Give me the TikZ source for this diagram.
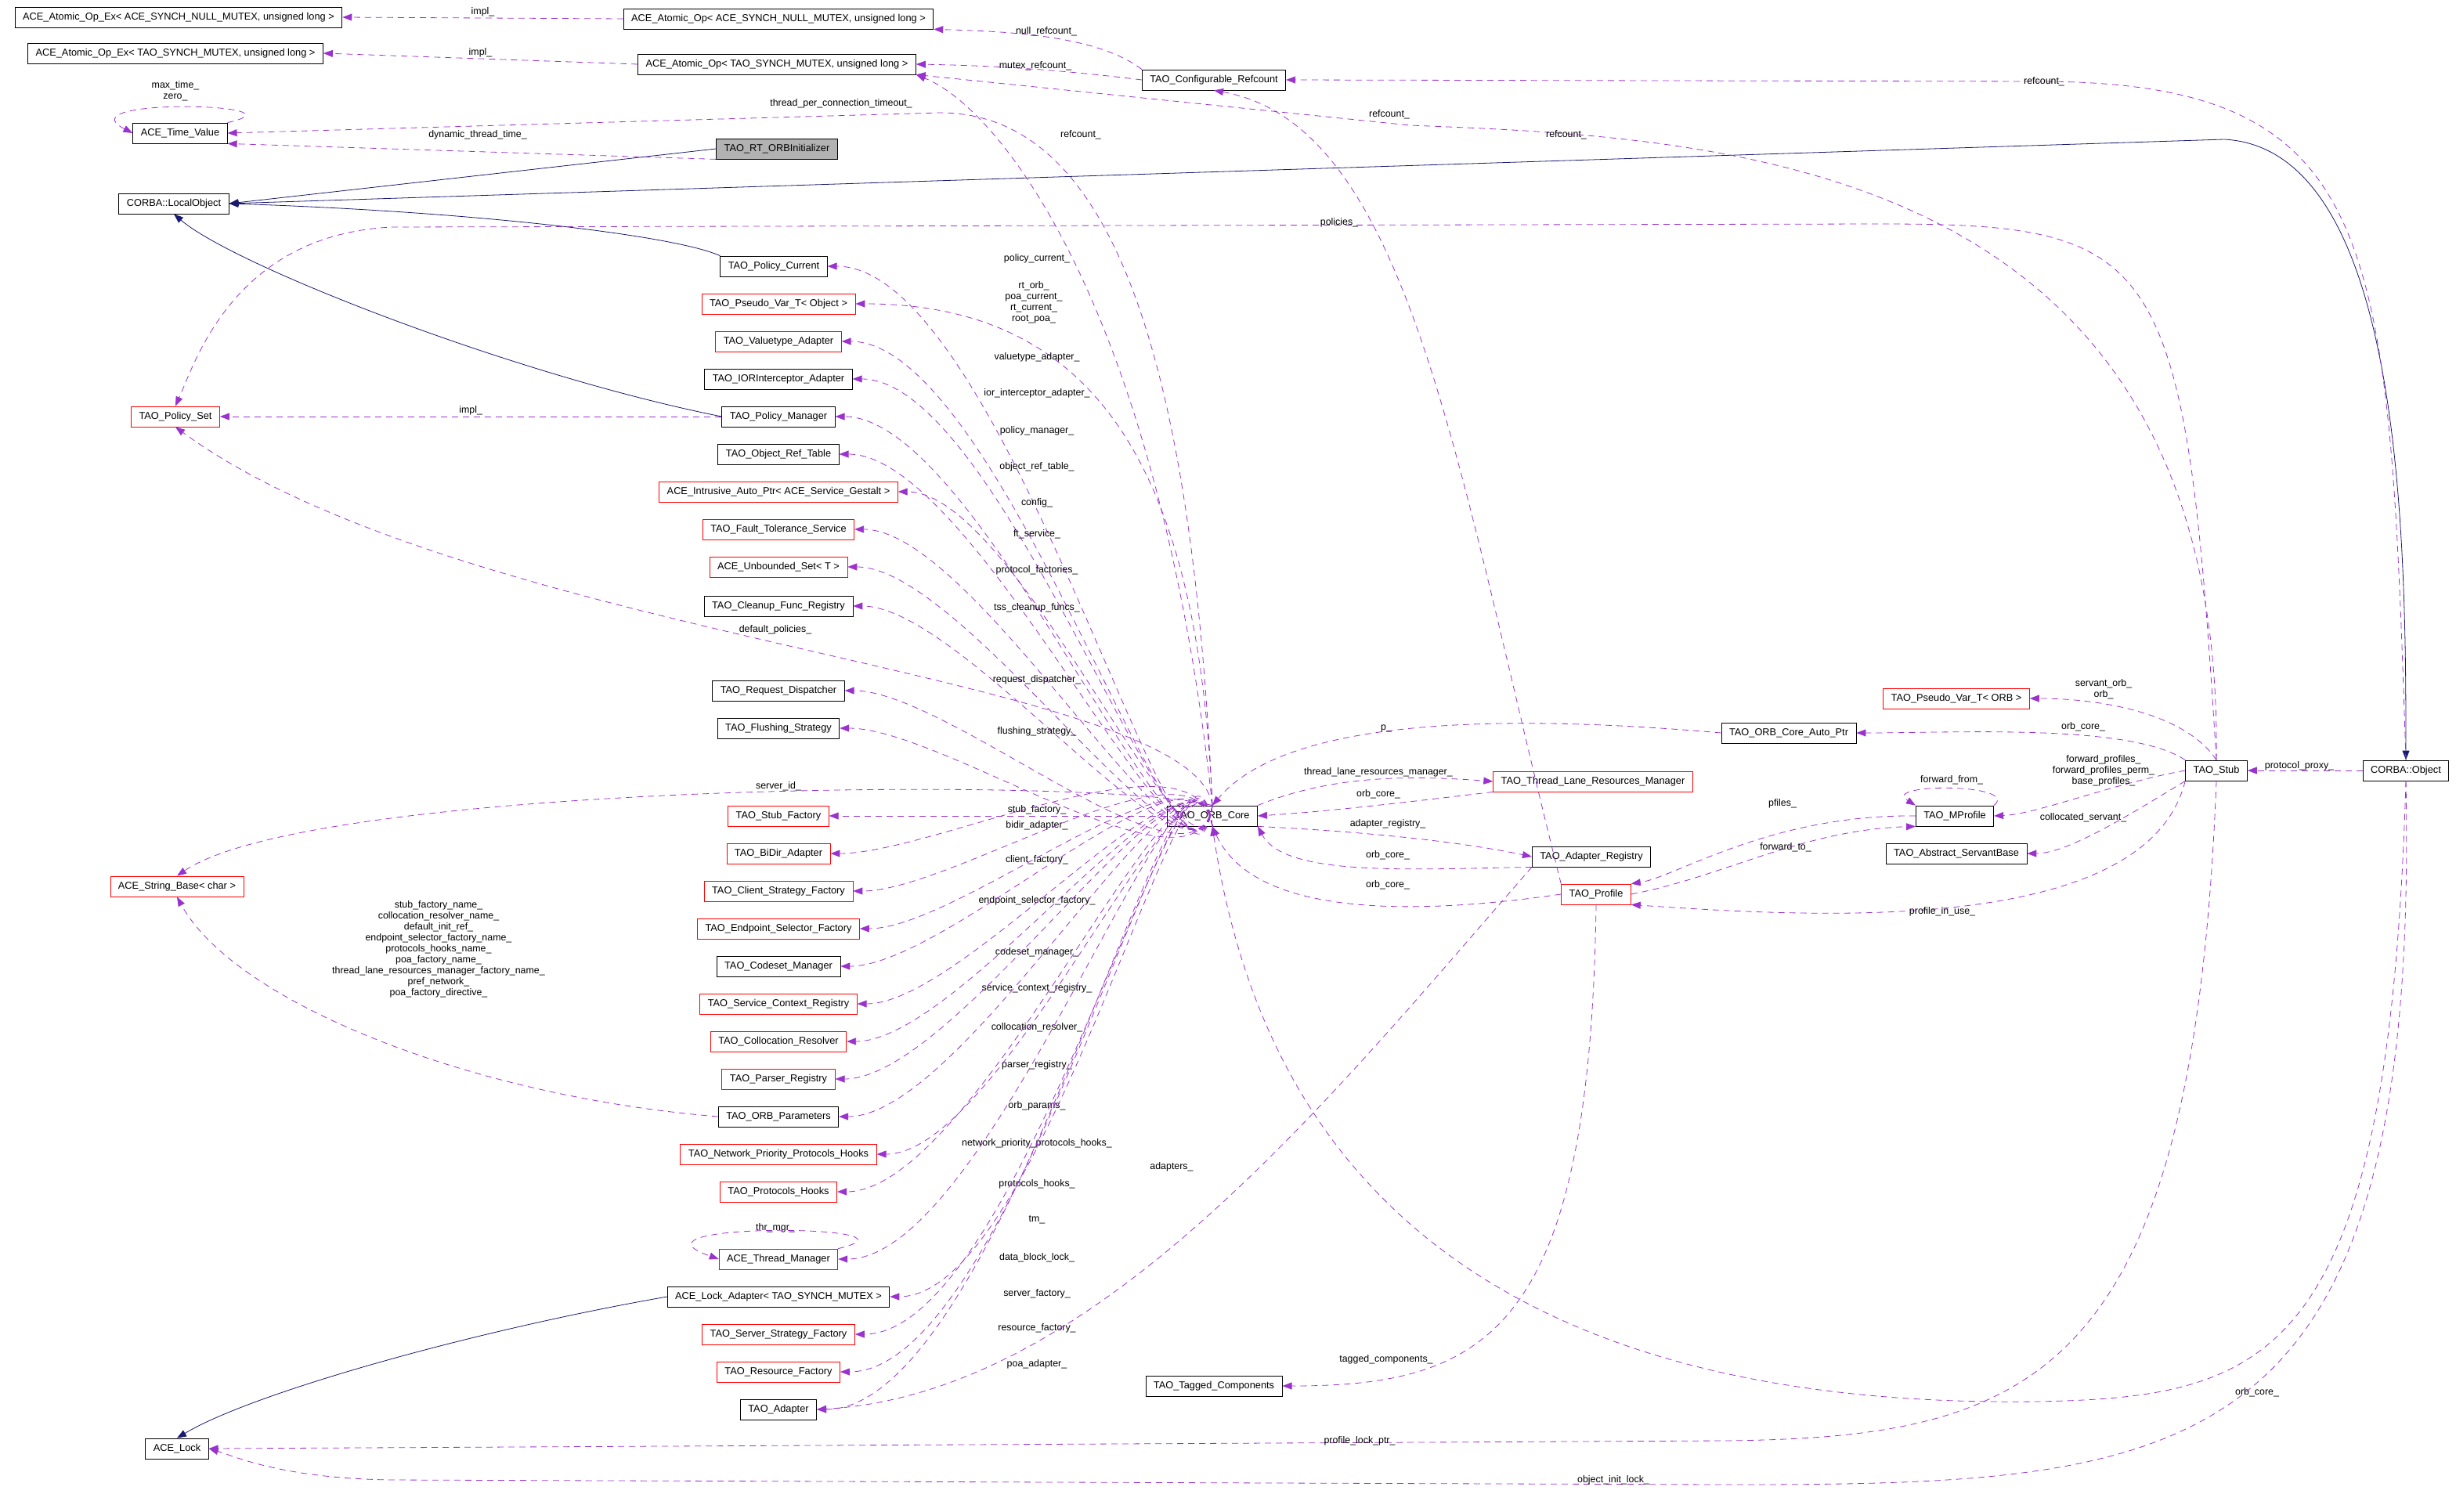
\documentclass[tikz,border=0pt]{standalone}
\usepackage{fontspec}
\setmainfont{Liberation Sans}
\usetikzlibrary{arrows.meta}
\definecolor{usecol}{HTML}{9A32CD}
\definecolor{inhcol}{HTML}{191970}
\tikzset{
    cls/.style = {rectangle,draw,thin,inner xsep=5pt,inner ysep=0pt,minimum height=13pt,font=\fontsize{6.4}{7}\selectfont},
    redcls/.style = {cls,draw=red},
    rootcls/.style = {cls,fill=gray!60},
    lbl/.style = {font=\fontsize{6.2}{7}\selectfont,align=center,inner sep=0pt},
    use/.style = {draw=usecol,dash pattern=on 4pt off 3pt,-{Triangle[length=6pt,width=4.5pt]},fill=none},
    inh/.style = {draw=inhcol,-{Triangle[length=6pt,width=4.5pt]}}}
\begin{document}
\begin{tikzpicture}[x=1pt,y=-1pt]
\useasboundingbox (0,0) rectangle (1568,965.5);
% classes
\node[cls] (AtomExNull) at (114,11) {ACE\_Atomic\_Op\_Ex< ACE\_SYNCH\_NULL\_MUTEX, unsigned long >};
\node[cls] (AtomExMtx) at (112,34) {ACE\_Atomic\_Op\_Ex< TAO\_SYNCH\_MUTEX, unsigned long >};
\node[cls] (AtomNull) at (497,12) {ACE\_Atomic\_Op< ACE\_SYNCH\_NULL\_MUTEX, unsigned long >};
\node[cls] (AtomMtx) at (496,41) {ACE\_Atomic\_Op< TAO\_SYNCH\_MUTEX, unsigned long >};
\node[cls] (ConfRefcount) at (775,51) {TAO\_Configurable\_Refcount};
\node[cls] (TimeValue) at (115,85) {ACE\_Time\_Value};
\node[rootcls] (RTInit) at (496,95) {TAO\_RT\_ORBInitializer};
\node[cls] (LocalObject) at (111,130) {CORBA::LocalObject};
\node[cls] (PolicyCurrent) at (494,170) {TAO\_Policy\_Current};
\node[redcls] (PseudoVarObj) at (497,194) {TAO\_Pseudo\_Var\_T< Object >};
\node[redcls] (Valuetype) at (497,218) {TAO\_Valuetype\_Adapter};
\node[cls] (IORInt) at (497,242) {TAO\_IORInterceptor\_Adapter};
\node[cls] (PolicyManager) at (497,266) {TAO\_Policy\_Manager};
\node[redcls] (PolicySet) at (112,266) {TAO\_Policy\_Set};
\node[cls] (ObjRefTable) at (497,290) {TAO\_Object\_Ref\_Table};
\node[redcls] (IntrusiveAuto) at (497,314) {ACE\_Intrusive\_Auto\_Ptr< ACE\_Service\_Gestalt >};
\node[redcls] (FaultTol) at (497,338) {TAO\_Fault\_Tolerance\_Service};
\node[redcls] (Unbounded) at (497,362) {ACE\_Unbounded\_Set< T >};
\node[cls] (Cleanup) at (497,387) {TAO\_Cleanup\_Func\_Registry};
\node[cls] (ReqDisp) at (497,441) {TAO\_Request\_Dispatcher};
\node[cls] (Flushing) at (497,465) {TAO\_Flushing\_Strategy};
\node[redcls] (StubFactory) at (497,521) {TAO\_Stub\_Factory};
\node[redcls] (BiDir) at (497,545) {TAO\_BiDir\_Adapter};
\node[redcls] (StringBase) at (113,566) {ACE\_String\_Base< char >};
\node[redcls] (ClientStrat) at (497,569) {TAO\_Client\_Strategy\_Factory};
\node[redcls] (EndpointSel) at (497,593) {TAO\_Endpoint\_Selector\_Factory};
\node[cls] (Codeset) at (497,617) {TAO\_Codeset\_Manager};
\node[redcls] (ServiceCtx) at (497,641) {TAO\_Service\_Context\_Registry};
\node[redcls] (Collocation) at (497,665) {TAO\_Collocation\_Resolver};
\node[redcls] (Parser) at (497,689) {TAO\_Parser\_Registry};
\node[cls] (ORBParams) at (497,713) {TAO\_ORB\_Parameters};
\node[redcls] (NetPrio) at (497,737) {TAO\_Network\_Priority\_Protocols\_Hooks};
\node[redcls] (ProtHooks) at (497,761) {TAO\_Protocols\_Hooks};
\node[redcls] (ThreadMgr) at (497,804) {ACE\_Thread\_Manager};
\node[cls] (LockAdapter) at (497,828) {ACE\_Lock\_Adapter< TAO\_SYNCH\_MUTEX >};
\node[redcls] (ServerStrat) at (497,852) {TAO\_Server\_Strategy\_Factory};
\node[redcls] (ResFactory) at (497,876) {TAO\_Resource\_Factory};
\node[cls] (Adapter) at (497,900) {TAO\_Adapter};
\node[cls] (ACELock) at (113,925) {ACE\_Lock};
\node[cls] (ORBCore) at (774,521) {TAO\_ORB\_Core};
\node[redcls] (ThreadLane) at (1017,499) {TAO\_Thread\_Lane\_Resources\_Manager};
\node[cls] (ORBCoreAuto) at (1142,468) {TAO\_ORB\_Core\_Auto\_Ptr};
\node[redcls] (PseudoVarORB) at (1249,446) {TAO\_Pseudo\_Var\_T< ORB >};
\node[cls] (AdapterReg) at (1016,547) {TAO\_Adapter\_Registry};
\node[redcls] (Profile) at (1019,571) {TAO\_Profile};
\node[cls] (MProfile) at (1248,521) {TAO\_MProfile};
\node[cls] (AbstractServant) at (1249,545) {TAO\_Abstract\_ServantBase};
\node[cls] (Stub) at (1415,492) {TAO\_Stub};
\node[cls] (CorbaObject) at (1536,492) {CORBA::Object};
\node[cls] (TaggedComp) at (775,885) {TAO\_Tagged\_Components};

% inheritance
\draw[inh] (RTInit.west) -- (LocalObject.east);
\draw[inh] (PolicyCurrent.north west) .. controls (430,150) and (300,135) .. (LocalObject.east);
\draw[inh] (PolicyManager.west) .. controls (330,240) and (150,170) .. (LocalObject.south);
\draw[inh] (LockAdapter.west) .. controls (300,850) and (160,890) .. (ACELock.north);
\draw[inh] (LocalObject.east) -- (1420,89) .. controls (1535,95) and (1536,350) .. (CorbaObject.north);

% usage
\draw[use] (AtomNull.west) -- node[lbl,above=1pt] {impl\_} (AtomExNull.east);
\draw[use] (AtomMtx.west) -- node[lbl,above=1pt] {impl\_} (AtomExMtx.east);
\draw[use] (ConfRefcount.north west) .. controls (700,22) and (640,20) .. (AtomNull.south east);
\node[lbl] (lnull) at (668,20) {null\_refcount\_};
\draw[use] (ConfRefcount.west) .. controls (680,45) and (640,42) .. (AtomMtx.east);
\node[lbl] (lmutex) at (661,42) {mutex\_refcount\_};
\draw[use] (TimeValue.north east) .. controls (200,66) and (40,62) .. (TimeValue.west);
\node[lbl] (lmax) at (112,58) {max\_time\_\\zero\_};
\draw[use] (RTInit.south west) -- (TimeValue.south east);
\node[lbl] (ldyn) at (305,86) {dynamic\_thread\_time\_};
\draw[use] (ORBCore.north) .. controls (760,200) and (700,72) .. (600,72) -- (TimeValue.east);
\node[lbl] (ltpc) at (537,66) {thread\_per\_connection\_timeout\_};
\draw[use] (ORBCore.north) .. controls (740,200) and (640,70) .. (AtomMtx.south east);
\node[lbl] (lrc1) at (690,86) {refcount\_};
\draw[use] (Stub.north) .. controls (1420,100) and (1100,88) .. (900,80) -- (AtomMtx.south east);
\node[lbl] (lrc2) at (1000,86) {refcount\_};
\draw[use] (Profile.north west) .. controls (930,300) and (900,80) .. (ConfRefcount.south);
\node[lbl] (lrc3) at (887,73) {refcount\_};
\draw[use] (CorbaObject.north) .. controls (1525,150) and (1520,52) .. (1300,52) -- (ConfRefcount.east);
\node[lbl] (lrc4) at (1305,52) {refcount\_};
\draw[use] (Stub.north) .. controls (1395,160) and (1380,143) .. (1200,143) -- (250,145) .. controls (150,150) and (125,230) .. (PolicySet.north);
\node[lbl] (lpol) at (855,142) {policies\_};
\draw[use] (PolicyManager.west) -- node[lbl,above=1pt] {impl\_} (PolicySet.east);
\draw[use] (ORBCore.north) .. controls (762,430) and (300,410) .. (PolicySet.south);
\node[lbl] (ldef) at (495,402) {default\_policies\_};
\draw[use] (ORBCore.north) .. controls (700,495) and (200,500) .. (StringBase.north);
\node[lbl] (lsid) at (497,502) {server\_id\_};
\draw[use] (ORBParams.west) .. controls (300,700) and (150,640) .. (StringBase.south);
\node[lbl] (lnames) at (280,606) {stub\_factory\_name\_\\collocation\_resolver\_name\_\\default\_init\_ref\_\\endpoint\_selector\_factory\_name\_\\protocols\_hooks\_name\_\\poa\_factory\_name\_\\thread\_lane\_resources\_manager\_factory\_name\_\\pref\_network\_\\poa\_factory\_directive\_};

% ORB core members
\draw[use] (ORBCore.north) .. controls (765,300) and (700,194) .. (PseudoVarObj.east);
\node[lbl] (lpv) at (660,193) {rt\_orb\_\\poa\_current\_\\rt\_current\_\\root\_poa\_};
\foreach \t/\ly/\txt in {PolicyCurrent/165/policy\_current\_, Valuetype/228/valuetype\_adapter\_,
    IORInt/251/ior\_interceptor\_adapter\_, PolicyManager/275/policy\_manager\_,
    ObjRefTable/298/object\_ref\_table\_, IntrusiveAuto/321/config\_, FaultTol/341/ft\_service\_,
    Unbounded/364/protocol\_factories\_, Cleanup/388/tss\_cleanup\_funcs\_,
    ReqDisp/434/request\_dispatcher\_, Flushing/467/flushing\_strategy\_}
    \draw[use] (ORBCore.north) to[out=262,in=0,looseness=0.7] (\t.east) node[lbl] at (662,\ly) {\txt};
\draw[use] (ORBCore.west) -- (StubFactory.east);
\node[lbl] (lsf) at (662,517) {stub\_factory\_};
\foreach \t/\ly/\txt in {BiDir/527/bidir\_adapter\_, ClientStrat/549/client\_factory\_,
    EndpointSel/575/endpoint\_selector\_factory\_, Codeset/608/codeset\_manager\_,
    ServiceCtx/631/service\_context\_registry\_, Collocation/656/collocation\_resolver\_,
    Parser/680/parser\_registry\_, ORBParams/706/orb\_params\_,
    NetPrio/730/network\_priority\_protocols\_hooks\_, ProtHooks/756/protocols\_hooks\_,
    ThreadMgr/779/tm\_, LockAdapter/803/data\_block\_lock\_, ServerStrat/826/server\_factory\_,
    ResFactory/848/resource\_factory\_, Adapter/871/poa\_adapter\_}
    \draw[use] (ORBCore.south) to[out=98,in=0,looseness=0.7] (\t.east) node[lbl] at (662,\ly) {\txt};
\draw[use] (ThreadMgr.north east) .. controls (600,782) and (390,780) .. (ThreadMgr.west);
\node[lbl] (lthr) at (495,784) {thr\_mgr\_};

% right part
\draw[use] (ORBCore.north east) .. controls (850,495) and (900,495) .. (ThreadLane.west);
\node[lbl] (ltl) at (880,493) {thread\_lane\_resources\_manager\_};
\draw[use] (ThreadLane.south west) .. controls (900,512) and (850,518) .. (ORBCore.east);
\node[lbl] (loc1) at (880,507) {orb\_core\_};
\draw[use] (ORBCoreAuto.west) .. controls (950,455) and (820,460) .. (ORBCore.north);
\node[lbl] (lp) at (885,465) {p\_};
\draw[use] (ORBCore.south east) .. controls (850,530) and (920,535) .. (AdapterReg.west);
\node[lbl] (lar) at (886,526) {adapter\_registry\_};
\draw[use] (AdapterReg.south west) .. controls (900,555) and (820,560) .. (ORBCore.south east);
\node[lbl] (loc2) at (886,546) {orb\_core\_};
\draw[use] (Profile.west) .. controls (900,585) and (800,585) .. (ORBCore.south);
\node[lbl] (loc3) at (886,565) {orb\_core\_};
\draw[use] (AdapterReg.south west) .. controls (850,700) and (700,890) .. (Adapter.east);
\node[lbl] (lad) at (748,745) {adapters\_};
\draw[use] (Profile.south) .. controls (1015,850) and (950,885) .. (TaggedComp.east);
\node[lbl] (ltc) at (885,868) {tagged\_components\_};
\draw[use] (Stub.north west) .. controls (1360,462) and (1250,468) .. (ORBCoreAuto.east);
\node[lbl] (loc4) at (1330,464) {orb\_core\_};
\draw[use] (Stub.north) .. controls (1395,455) and (1340,446) .. (PseudoVarORB.east);
\node[lbl] (lsorb) at (1343,440) {servant\_orb\_\\orb\_};
\draw[use] (Stub.west) .. controls (1350,500) and (1300,520) .. (MProfile.east);
\node[lbl] (lfwd) at (1343,492) {forward\_profiles\_\\forward\_profiles\_perm\_\\base\_profiles\_};
\draw[use] (MProfile.north east) .. controls (1290,500) and (1200,500) .. (MProfile.north west);
\node[lbl] (lff) at (1246,498) {forward\_from\_};
\draw[use] (MProfile.west) .. controls (1130,520) and (1070,560) .. (Profile.north east);
\node[lbl] (lpf) at (1138,513) {pfiles\_};
\draw[use] (Profile.east) .. controls (1100,560) and (1150,530) .. (MProfile.south west);
\node[lbl] (lft) at (1140,541) {forward\_to\_};
\draw[use] (Stub.south west) .. controls (1360,520) and (1320,545) .. (AbstractServant.east);
\node[lbl] (lcs) at (1330,522) {collocated\_servant\_};
\draw[use] (Stub.south west) .. controls (1370,600) and (1150,585) .. (Profile.south east);
\node[lbl] (lpiu) at (1240,582) {profile\_in\_use\_};
\draw[use] (CorbaObject.west) -- (Stub.east);
\node[lbl] (lpp) at (1468,489) {protocol\_proxy\_};
\draw[use] (CorbaObject.south) .. controls (1525,870) and (1450,892) .. (1300,895) .. controls (900,900) and (800,700) .. (ORBCore.south);
\node[lbl] (loc5) at (1441,889) {orb\_core\_};
\draw[use] (Stub.south) .. controls (1400,880) and (1300,918) .. (1100,920) -- (ACELock.east);
\node[lbl] (lplp) at (868,920) {profile\_lock\_ptr\_};
\draw[use] (CorbaObject.south) .. controls (1545,940) and (1400,948) .. (1100,948) -- (250,945) .. controls (180,944) and (150,930) .. (ACELock.east);
\node[lbl] (loil) at (1030,945) {object\_init\_lock\_};
\end{tikzpicture}
\end{document}
